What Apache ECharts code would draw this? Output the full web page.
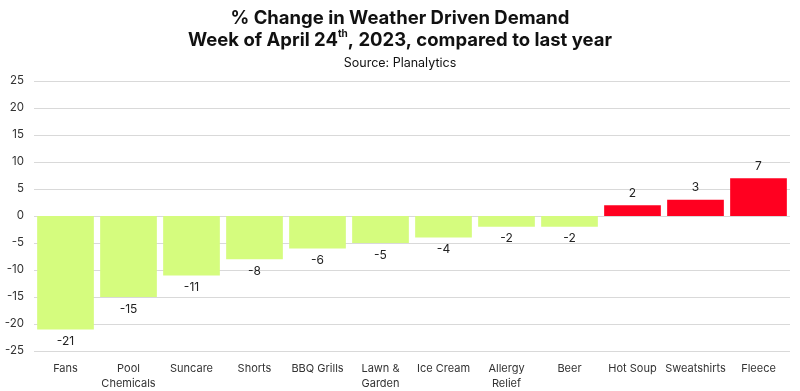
<!DOCTYPE html>
<html><head><meta charset="utf-8">
<script src="https://cdn.jsdelivr.net/npm/echarts@6/dist/echarts.min.js"></script>
<style>html,body{margin:0;padding:0;background:#fff}#c{width:800px;height:391px}</style>
</head><body><div id="c"></div>
<script>
const categories = ['Fans','Pool\nChemicals','Suncare','Shorts','BBQ Grills','Lawn &\nGarden','Ice Cream','Allergy\nRelief','Beer','Hot Soup','Sweatshirts','Fleece'];
const values = [-21,-15,-11,-8,-6,-5,-4,-2,-2,2,3,7];
const yTicks = {min:-25, max:25, interval:5};
const FONT = 'Inter, "DejaVu Sans", sans-serif';
const chart = echarts.init(document.getElementById('c'), null, {renderer:'canvas'});
chart.setOption({
  animation:false,
  backgroundColor:'#fff',
  title:[{
    text:'% Change in Weather Driven Demand\nWeek of April 24{sup|th}, 2023, compared to last year',
    left:'center', top:2,
    textStyle:{fontFamily:FONT, fontWeight:'bold', fontSize:18.5, color:'#111', lineHeight:22,
      rich:{sup:{fontFamily:FONT, fontWeight:'bold', fontSize:10, color:'#111', verticalAlign:'top', padding:[0,0,8,0]}}}
  },{
    text:'Source: Planalytics', left:'center', top:52,
    textStyle:{fontFamily:FONT, fontWeight:'normal', fontSize:12.5, color:'#111'}
  }],
  grid:{left:34, right:10, top:81, bottom:40, containLabel:false},
  xAxis:{type:'category', data:categories, position:'bottom',
    axisLine:{show:false}, axisTick:{show:false},
    axisLabel:{fontFamily:FONT, fontSize:11, color:'#333', lineHeight:15, margin:10, interval:0}},
  yAxis:{type:'value', min:yTicks.min, max:yTicks.max, interval:yTicks.interval,
    axisLine:{show:false}, axisTick:{show:false},
    axisLabel:{fontFamily:FONT, fontSize:11.5, color:'#333', margin:10},
    splitLine:{lineStyle:{color:'#d9d9d9', width:1}}},
  series:[{type:'bar', barCategoryGap:'10%',
    data:values.map(v=>({value:v,
      itemStyle:{color: v<0 ? '#d5fc7e' : '#ff0020'},
      label:{position: v<0 ? 'bottom':'top'}})),
    label:{show:true, fontFamily:FONT, fontSize:12, color:'#222', distance:6}
  }]
});
</script></body></html>
